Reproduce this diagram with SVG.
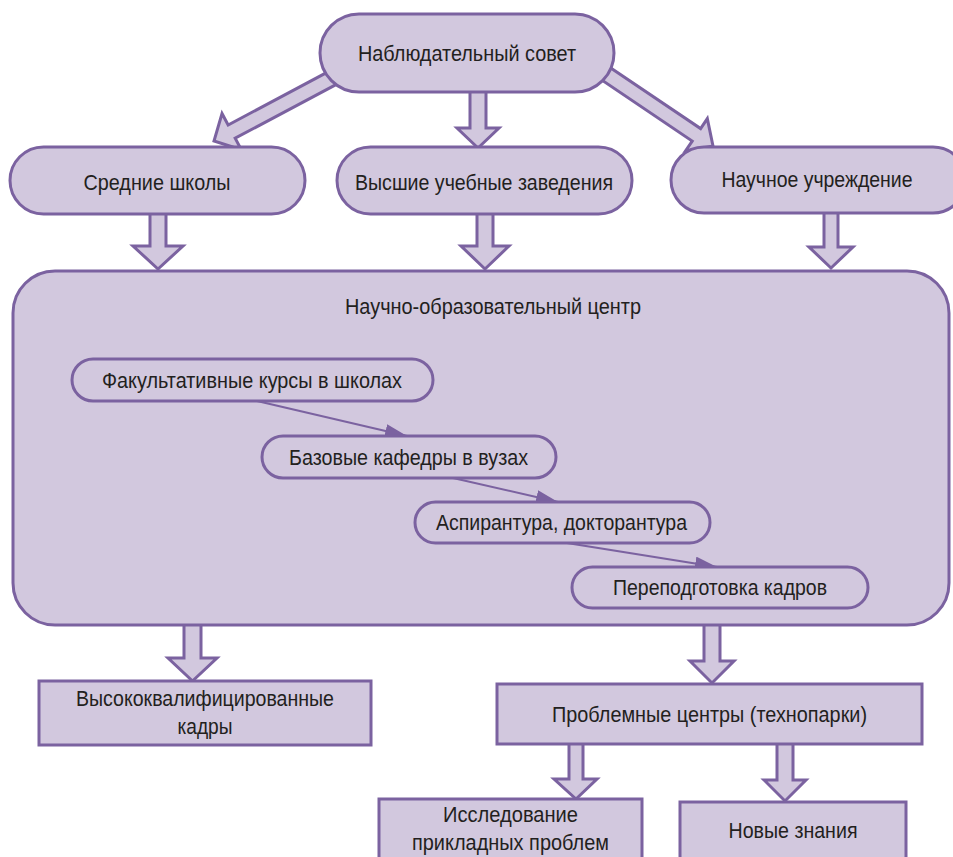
<svg xmlns="http://www.w3.org/2000/svg" width="953" height="857" viewBox="0 0 953 857">
<defs>
<style>
.n{fill:#d2c8de;stroke:#7b62a0;stroke-width:3}
.ba{fill:#d2c8de;stroke:#7b62a0;stroke-width:3;stroke-linejoin:miter}
.c{stroke:#7b62a0;stroke-width:2;fill:none}
text{font-family:"Liberation Sans",Arial,sans-serif;font-size:22px;fill:#231f20;text-anchor:middle}
</style>
<marker id="ah" markerUnits="userSpaceOnUse" markerWidth="24" markerHeight="14" refX="22" refY="7" orient="auto">
<path d="M0,0 L22,7 L0,14 Z" fill="#7b62a0"/>
</marker>
</defs>
<rect width="953" height="857" fill="#ffffff"/>
<g id="connectors">
<polygon class="ba" points="470,90 486,90 486,128 499,128 478,148 457,128 470,128"/>
<g transform="translate(214,141) rotate(152)"><polygon class="ba" points="-140,-7.5 -20,-7.5 -20,-20.5 0,0 -20,20.5 -20,7.5 -140,7.5"/></g>
<g transform="translate(713,146) rotate(34)"><polygon class="ba" points="-140,-7.5 -20,-7.5 -20,-19.5 0,0 -20,19.5 -20,7.5 -140,7.5"/></g>
<polygon class="ba" points="150,212 166,212 166,246 183,246 158,269 133,246 150,246"/>
<polygon class="ba" points="477,212 493,212 493,246 509,246 485,269 461,246 477,246"/>
<polygon class="ba" points="824,211 838,211 838,247 853,247 831,268 809,247 824,247"/>
<polygon class="ba" points="184,624 201,624 201,658 217,658 192.5,681 168,658 184,658"/>
<polygon class="ba" points="704,624 720,624 720,661 734,661 712,683 690,661 704,661"/>
<polygon class="ba" points="569,743 583,743 583,779 597,779 576,799 554,779 569,779"/>
<polygon class="ba" points="777,743 793,743 793,780 806,780 785,801 764,780 777,780"/>
</g>
<g id="n-council"><rect class="n" x="320" y="14" width="294" height="78" rx="39"/><text x="467" y="61" textLength="218" lengthAdjust="spacingAndGlyphs">Наблюдательный совет</text></g>
<g id="n-schools"><rect class="n" x="10" y="147" width="295" height="67" rx="33.5"/><text x="157" y="190" textLength="147" lengthAdjust="spacingAndGlyphs">Средние школы</text></g>
<g id="n-univ"><rect class="n" x="337" y="147" width="295" height="67" rx="33.5"/><text x="484" y="190" textLength="258" lengthAdjust="spacingAndGlyphs">Высшие учебные заведения</text></g>
<g id="n-sci"><rect class="n" x="671" y="147" width="295" height="66" rx="33"/><text x="817" y="187" textLength="191" lengthAdjust="spacingAndGlyphs">Научное учреждение</text></g>
<g id="n-center"><rect class="n" x="13" y="271" width="936" height="354" rx="42"/><text x="493" y="314" textLength="296" lengthAdjust="spacingAndGlyphs">Научно-образовательный центр</text></g>
<g id="inner-connectors">
<line class="c" x1="257" y1="401" x2="407" y2="436" marker-end="url(#ah)"/>
<line class="c" x1="453" y1="478" x2="558" y2="502" marker-end="url(#ah)"/>
<line class="c" x1="567" y1="543" x2="717" y2="567" marker-end="url(#ah)"/>
</g>
<g id="n-fak"><rect class="n" x="72" y="359" width="361" height="42" rx="21"/><text x="252" y="388" textLength="300" lengthAdjust="spacingAndGlyphs">Факультативные курсы в школах</text></g>
<g id="n-baz"><rect class="n" x="262" y="436" width="294" height="42" rx="21"/><text x="408.5" y="465" textLength="239" lengthAdjust="spacingAndGlyphs">Базовые кафедры в вузах</text></g>
<g id="n-asp"><rect class="n" x="415" y="502" width="295" height="41" rx="20.5"/><text x="561.5" y="530" textLength="251" lengthAdjust="spacingAndGlyphs">Аспирантура, докторантура</text></g>
<g id="n-pere"><rect class="n" x="572" y="567" width="296" height="41" rx="20.5"/><text x="720" y="595" textLength="214" lengthAdjust="spacingAndGlyphs">Переподготовка кадров</text></g>
<g id="n-kadry"><rect class="n" x="39" y="681" width="332" height="64"/><text x="205" y="706" textLength="258" lengthAdjust="spacingAndGlyphs">Высококвалифицированные</text><text x="205" y="734" textLength="55" lengthAdjust="spacingAndGlyphs">кадры</text></g>
<g id="n-problem"><rect class="n" x="497" y="684" width="425" height="60"/><text x="709.5" y="722" textLength="315" lengthAdjust="spacingAndGlyphs">Проблемные центры (технопарки)</text></g>
<g id="n-research"><rect class="n" x="379" y="799" width="263" height="72"/><text x="510.5" y="822" textLength="135" lengthAdjust="spacingAndGlyphs">Исследование</text><text x="510.5" y="850" textLength="197" lengthAdjust="spacingAndGlyphs">прикладных проблем</text></g>
<g id="n-new"><rect class="n" x="680" y="802" width="226" height="70"/><text x="793" y="838" textLength="129" lengthAdjust="spacingAndGlyphs">Новые знания</text></g>
</svg>
